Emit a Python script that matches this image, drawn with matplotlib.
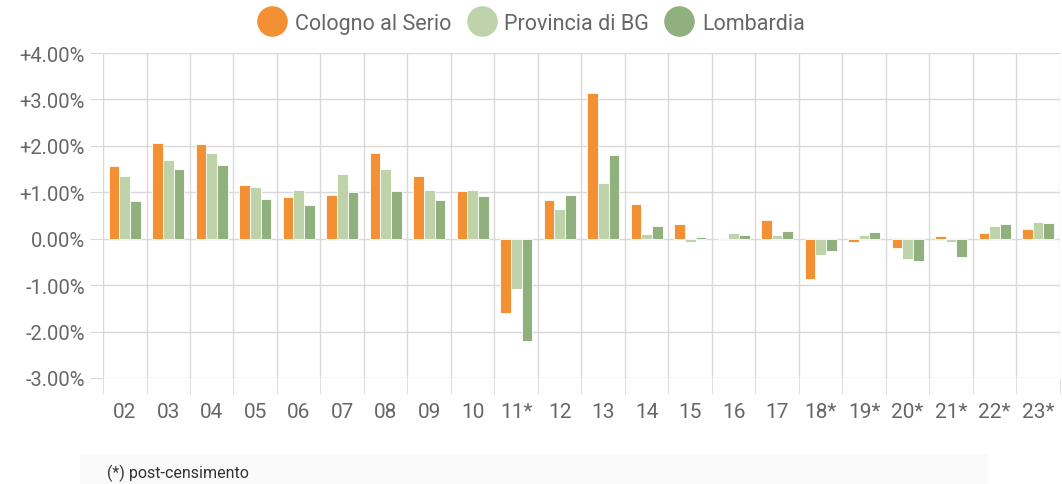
import matplotlib.pyplot as plt
import numpy as np
from matplotlib.lines import Line2D
from matplotlib.patches import Rectangle

plt.rcParams['font.family'] = ['Roboto', 'DejaVu Sans']

years = ["02", "03", "04", "05", "06", "07", "08", "09", "10", "11*", "12",
         "13", "14", "15", "16", "17", "18*", "19*", "20*", "21*", "22*", "23*"]
cologno = [1.56, 2.06, 2.04, 1.15, 0.90, 0.94, 1.84, 1.35, 1.02, -1.60, 0.84,
           3.14, 0.74, 0.32, 0.00, 0.41, -0.86, -0.06, -0.21, 0.05, 0.12, 0.21]
provincia = [1.36, 1.70, 1.84, 1.11, 1.04, 1.40, 1.50, 1.06, 1.04, -1.09, 0.64,
             1.20, 0.11, -0.06, 0.12, 0.08, -0.36, 0.07, -0.43, -0.06, 0.28, 0.35]
lombardia = [0.81, 1.51, 1.58, 0.86, 0.73, 1.00, 1.03, 0.84, 0.92, -2.20, 0.94,
             1.81, 0.28, 0.04, 0.09, 0.16, -0.27, 0.15, -0.48, -0.40, 0.32, 0.34]
series_names = ["Cologno al Serio", "Provincia di BG", "Lombardia"]
colors = ["#f39034", "#bed3aa", "#90b07d"]
y_ticks = [-3, -2, -1, 0, 1, 2, 3, 4]

fig = plt.figure(figsize=(10.62, 4.85), dpi=100)
ax = fig.add_axes([0.097, 0.2186, 0.901, 0.670])

x = np.arange(len(years))
w = 0.245
for i, (vals, c) in enumerate(zip([cologno, provincia, lombardia], colors)):
    ax.bar(x + (i - 1) * w, vals, width=w, color=c, edgecolor="white",
           linewidth=0.6, zorder=3)

ax.set_xlim(-0.5, len(years) - 0.5)
ax.set_ylim(-3, 4)
for s in ax.spines.values():
    s.set_visible(False)

grid_c = "#d9d9d9"
ax.set_yticks(y_ticks)
ax.set_yticklabels([f"{v:+.2f}%" if v != 0 else "0.00%" for v in y_ticks])
ax.yaxis.grid(True, color=grid_c, linewidth=1, zorder=0)
ax.tick_params(axis="y", length=9.5, color=grid_c, labelsize=14.5,
               labelcolor="#666666", pad=3.5)

ax.set_xticks(x)
ax.set_xticklabels(years)
ax.set_xticks(np.arange(len(years) + 1) - 0.5, minor=True)
ax.xaxis.grid(True, which="minor", color=grid_c, linewidth=1, zorder=0)
ax.tick_params(axis="x", which="major", length=0, labelsize=15,
               labelcolor="#666666", pad=17)
ax.tick_params(axis="x", which="minor", length=11.5, color=grid_c)

handles = [Line2D([], [], marker="o", linestyle="", markersize=21,
                  markerfacecolor=c, markeredgecolor=c) for c in colors]
fig.legend(handles, series_names, loc="center", bbox_to_anchor=(0.5, 0.95),
           ncol=3, frameon=False, fontsize=15.5, labelcolor="#666666",
           handletextpad=0.35, columnspacing=0.7, handlelength=1.4)

fig.patches.append(Rectangle((0.075, 0.0), 0.855, 0.062, transform=fig.transFigure,
                             facecolor="#fafafa", edgecolor="none", zorder=0))
fig.text(0.101, 0.025, "(*) post-censimento", fontsize=11.5, color="#333333",
         va="center")

fig.savefig("out.png", dpi=100)
